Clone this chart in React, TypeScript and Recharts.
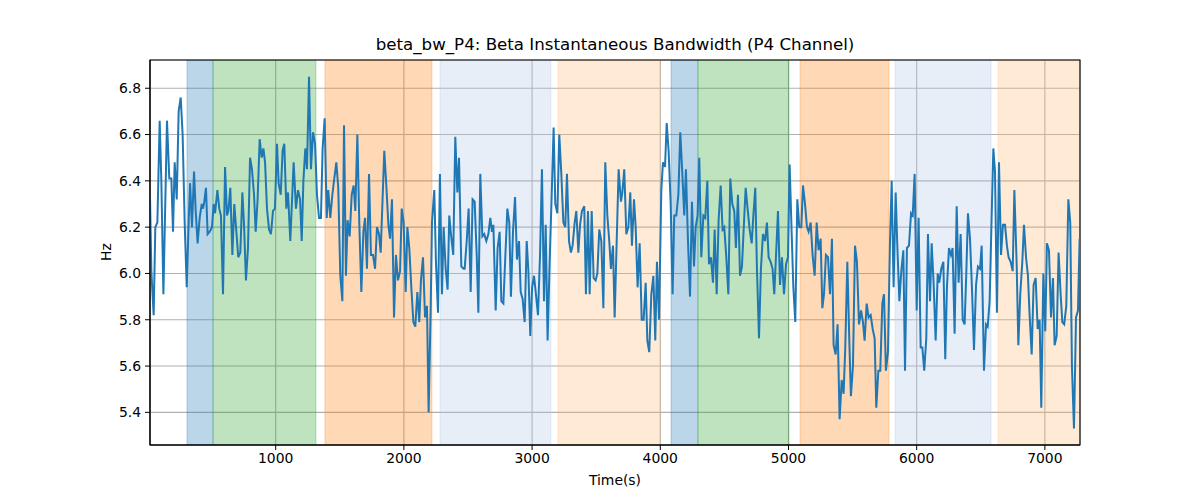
import { LineChart, Line, XAxis, YAxis, CartesianGrid, ReferenceArea } from "recharts";

// time (s) and beta bandwidth (Hz)
const timeS = [
  20, 30, 48, 61, 77, 95, 108, 124, 152, 170,
  186, 199, 212, 228, 243, 259, 274, 290, 306, 321,
  332, 347, 363, 376, 391, 407, 423, 433, 443, 456,
  469, 485, 503, 516, 527, 545, 560, 573, 589, 605,
  620, 631, 646, 662, 677, 696, 708, 724, 740, 753,
  768, 784, 800, 815, 831, 844, 859, 875, 891, 904,
  917, 932, 948, 963, 979, 994, 1010, 1023, 1039, 1054,
  1067, 1083, 1096, 1114, 1140, 1158, 1174, 1190, 1203, 1216,
  1231, 1244,
  1260, 1275, 1291, 1307, 1322, 1338, 1353, 1366, 1382, 1398,
  1410, 1426, 1442, 1457, 1473, 1488, 1504, 1520, 1533, 1548,
  1561, 1577, 1593, 1608, 1621, 1637, 1652, 1668, 1684, 1697,
  1712, 1728, 1743, 1759, 1775, 1790, 1806, 1819, 1847, 1863,
  1879, 1892, 1907, 1923, 1938, 1954, 1970, 1983, 1998, 2014,
  2027, 2042, 2058, 2074, 2089, 2105, 2120, 2133, 2149, 2165,
  2180, 2193, 2209, 2219, 2237, 2250, 2266, 2281, 2297, 2310,
  2326, 2341, 2354, 2367, 2385, 2401, 2417, 2430, 2448, 2466,
  2474, 2490, 2505, 2521, 2536, 2552, 2568, 2581, 2596, 2612,
  2627, 2643, 2659, 2674, 2687, 2698, 2716, 2731, 2747, 2760,
  2776, 2791, 2807, 2822, 2835, 2851, 2867, 2882, 2898, 2911,
  2926, 2942, 2958, 2971, 2986, 3000, 3015, 3030, 3046, 3062,
  3077, 3093, 3106, 3121, 3137, 3153, 3168, 3181, 3197, 3212,
  3228, 3244, 3259, 3272, 3288, 3303, 3316, 3332, 3345, 3361,
  3374, 3389, 3407, 3420, 3436, 3449, 3465, 3480, 3496, 3509,
  3524, 3540, 3556, 3571, 3587, 3602, 3615, 3631, 3644, 3660,
  3675,
  3693, 3704, 3719, 3735, 3751, 3766, 3779, 3795, 3808, 3823,
  3839, 3855, 3870, 3886, 3899, 3914, 3930, 3946, 3961, 3974,
  3990, 4008, 4021, 4037, 4050, 4065, 4081, 4096, 4109, 4125,
  4141, 4156, 4172, 4187, 4200, 4216, 4232, 4247, 4263, 4276,
  4291, 4304, 4320, 4336, 4351, 4367, 4380, 4395, 4411, 4424,
  4440, 4455, 4471, 4486, 4499, 4515, 4531, 4546, 4562, 4577,
  4590, 4606, 4622, 4637, 4653, 4666, 4681, 4697, 4713, 4726,
  4741, 4754, 4770, 4785, 4801, 4817, 4832, 4845, 4861, 4876,
  4889,
  4903, 4918, 4934, 4949, 4965, 4981, 4996, 5009, 5025, 5038,
  5053, 5069, 5084, 5100, 5113, 5129, 5144, 5157, 5173, 5188,
  5204, 5220, 5235, 5251, 5264, 5277, 5292, 5308, 5324, 5339,
  5352, 5368, 5383, 5399, 5415, 5430, 5443, 5459, 5474, 5487,
  5503, 5519, 5534, 5550, 5566, 5581, 5594, 5610, 5625, 5641,
  5657, 5672, 5685, 5701, 5716, 5732, 5745, 5760, 5776, 5792,
  5805, 5820, 5836, 5849, 5865, 5880, 5896, 5909, 5924, 5940,
  5956, 5969, 5984, 6000, 6015, 6031, 6044, 6059, 6075, 6088,
  6104,
  6117, 6132, 6148, 6164, 6176, 6192, 6208, 6223, 6236, 6252,
  6267, 6280, 6296, 6312, 6327, 6343, 6359, 6374, 6387, 6400,
  6416, 6431, 6447, 6463, 6478, 6494, 6507, 6525, 6541, 6554,
  6569, 6582, 6598, 6611, 6626, 6642, 6658, 6673, 6689, 6704,
  6717, 6733, 6749, 6762, 6780, 6793, 6808, 6824, 6837, 6853,
  6868, 6881, 6897, 6912, 6928, 6944, 6959, 6972, 6988, 7003,
  7016, 7032, 7048, 7063, 7076, 7092, 7107, 7123, 7136, 7151,
  7167, 7183, 7198, 7211, 7227, 7243, 7258, 7271,
];

const bwHz = [
  6.32, 6.01, 5.82, 6.20, 6.22, 6.66, 6.40, 5.91, 6.66, 6.41,
  6.41, 6.18, 6.48, 6.32, 6.70, 6.76, 6.60, 6.22, 5.94, 6.22,
  6.39, 6.20, 6.44, 6.27, 6.13, 6.24, 6.30, 6.28, 6.31, 6.37,
  6.17, 6.18, 6.20, 6.30, 6.26, 6.36, 6.28, 6.25, 5.91, 6.46,
  6.25, 6.27, 6.37, 6.08, 6.30, 6.16, 6.07, 6.09, 6.35, 6.21,
  5.97, 6.11, 6.50, 6.45, 6.34, 6.18, 6.32, 6.58, 6.50, 6.54,
  6.48, 6.28, 6.19, 6.17, 6.27, 6.28, 6.56, 6.39, 6.34, 6.53,
  6.56, 6.28, 6.35, 6.14, 6.48, 6.28, 6.36, 6.32, 6.14, 6.40,
  6.54, 6.45,
  6.85, 6.45, 6.61, 6.56, 6.34, 6.24, 6.24, 6.54, 6.67, 6.24,
  6.36, 6.24, 6.34, 6.41, 6.48, 6.37, 5.99, 5.88, 6.64, 5.99,
  6.23, 6.16, 6.34, 6.38, 6.27, 6.60, 6.22, 5.92, 6.18, 6.24,
  6.02, 6.43, 6.08, 6.08, 6.02, 6.20, 6.17, 6.09, 6.53, 6.38,
  6.21, 6.15, 6.32, 5.81, 6.08, 5.97, 6.01, 6.28, 6.22, 5.92,
  6.20, 6.11, 5.94, 5.79, 5.77, 5.92, 5.79, 5.97, 6.07, 5.81,
  5.86, 5.40, 5.85, 6.22, 6.36, 6.05, 5.83, 6.43, 5.91, 6.20,
  6.02, 5.93, 6.25, 6.17, 6.08, 6.59, 6.35, 6.50, 6.03, 6.02,
  6.02, 6.14, 6.28, 5.92, 6.32, 6.31, 6.08, 5.83, 6.43, 6.16,
  6.17, 6.14, 6.17, 6.24, 6.18, 6.21, 5.84, 6.11, 6.18, 5.88,
  5.87, 6.07, 6.28, 6.22, 5.90, 6.18, 6.33, 6.06, 6.14, 5.92,
  5.89, 5.79, 6.14, 6.01, 5.73, 5.94, 5.99, 5.91, 5.82, 6.08,
  6.45, 5.88, 6.21, 5.71, 6.05, 6.34, 6.63, 6.30, 6.26, 6.60,
  6.43, 6.22, 6.20, 6.43, 6.14, 6.09, 6.12, 6.22, 6.27, 6.09,
  6.21, 6.27, 6.29, 5.91, 6.27, 5.91, 6.27, 5.98, 5.97, 6.00,
  6.19, 6.14, 5.85, 6.48, 6.25, 6.14, 6.02, 6.12, 5.81, 6.14,
  6.45,
  6.31, 6.35, 6.45, 6.17, 6.20, 6.35, 6.12, 6.32, 6.20, 5.94,
  6.13, 5.80, 5.80, 5.96, 5.71, 5.66, 5.91, 5.99, 5.71, 6.05,
  5.80, 6.36, 6.48, 6.46, 6.65, 6.53, 6.30, 5.91, 6.25, 6.25,
  6.34, 6.61, 6.43, 6.25, 6.45, 6.14, 5.90, 6.31, 6.03, 6.20,
  6.25, 6.50, 6.07, 6.25, 6.24, 6.40, 6.04, 6.07, 5.96, 6.19,
  5.91, 6.23, 6.38, 6.19, 6.20, 6.07, 5.91, 6.41, 6.30, 6.27,
  6.11, 6.34, 5.99, 6.03, 6.22, 6.37, 6.28, 6.19, 6.13, 6.25,
  6.37, 6.02, 5.72, 6.02, 6.17, 6.14, 6.22, 6.07, 6.05, 6.02,
  5.91,
  6.08, 6.27, 5.95, 6.07, 5.91, 6.04, 6.07, 6.47, 6.17, 5.94,
  5.79, 6.32, 6.20, 6.20, 6.38, 6.30, 6.20, 6.18, 6.22, 6.08,
  5.99, 6.22, 6.10, 6.15, 5.85, 5.91, 6.08, 6.07, 5.91, 6.15,
  5.69, 5.65, 5.78, 5.37, 5.54, 5.48, 5.68, 6.05, 5.72, 5.47,
  5.60, 6.12, 6.05, 5.78, 5.84, 5.79, 5.71, 5.87, 5.81, 5.82,
  5.76, 5.72, 5.42, 5.58, 5.58, 5.87, 5.91, 5.58, 5.66, 6.14,
  6.40, 5.94, 6.35, 6.12, 5.88, 6.01, 6.10, 5.58, 6.11, 6.12,
  6.26, 6.25, 6.43, 5.84, 6.24, 5.68, 5.68, 5.58, 5.72, 6.17,
  5.88,
  6.13, 5.96, 5.71, 6.00, 5.96, 6.02, 6.05, 5.63, 5.94, 6.11,
  6.08, 6.11, 5.74, 6.29, 5.96, 6.17, 5.80, 5.78, 6.00, 6.26,
  6.15, 5.94, 5.67, 5.95, 6.03, 6.02, 6.12, 5.58, 5.78, 5.77,
  5.88, 6.18, 6.54, 6.44, 5.83, 6.48, 6.08, 6.21, 6.21, 6.12,
  6.07, 6.05, 6.01, 6.36, 6.04, 5.69, 5.91, 6.05, 6.21, 6.07,
  5.99, 5.82, 5.65, 5.95, 5.98, 5.76, 5.80, 5.42, 6.00, 5.75,
  6.13, 6.10, 5.81, 5.98, 5.69, 5.73, 6.09, 5.91, 5.79, 5.78,
  5.86, 6.32, 6.22, 5.60, 5.33, 5.81, 5.84, 6.15,
];

// shaded segments (start, end, colour)
const bandStart = [308, 511, 1384, 2282, 3202, 4084, 4294, 5090, 5831, 6635];
const bandEnd = [511, 1314, 2219, 3147, 3998, 4294, 5004, 5784, 6580, 7274];
const bandColor = [
  "#1f77b4", "#2ca02c", "#ff7f0e", "#aec7e8", "#ffbb78",
  "#1f77b4", "#2ca02c", "#ff7f0e", "#aec7e8", "#ffbb78",
];

const xTicks = [1000, 2000, 3000, 4000, 5000, 6000, 7000];
const yTicks = [5.4, 5.6, 5.8, 6.0, 6.2, 6.4, 6.6, 6.8];

const X_DOMAIN = [19.5, 7274];
const Y_DOMAIN = [5.259, 6.922];

const data = timeS.map((t, i) => ({ t, hz: bwHz[i] }));

const tickStyle = { fill: "#000", fontSize: 13.9 };

export default function App() {
  return (
    <div
      style={{
        position: "absolute",
        left: 0,
        top: 0,
        width: 1200,
        height: 500,
        background: "#fff",
        fontFamily: '"DejaVu Sans", sans-serif',
      }}
    >
      <div
        style={{
          position: "absolute",
          left: 150,
          width: 930,
          top: 35,
          textAlign: "center",
          fontSize: 16.67,
          lineHeight: "20px",
        }}
      >
        beta_bw_P4: Beta Instantaneous Bandwidth (P4 Channel)
      </div>
      <LineChart
        width={1200}
        height={500}
        data={data}
        margin={{ top: 60, right: 120, bottom: 25, left: 90 }}
      >
        <CartesianGrid stroke="#b0b0b0" strokeWidth={1.1} />
        {bandStart.map((s, i) => (
          <ReferenceArea
            key={i}
            x1={s}
            x2={bandEnd[i]}
            fill={bandColor[i]}
            fillOpacity={0.3}
            stroke={bandColor[i]}
            strokeOpacity={0.3}
            ifOverflow="hidden"
          />
        ))}
        <XAxis
          dataKey="t"
          type="number"
          domain={X_DOMAIN}
          ticks={xTicks}
          allowDataOverflow
          height={30}
          stroke="#000"
          tickSize={5}
          tickMargin={3}
          tick={tickStyle}
        />
        <YAxis
          type="number"
          domain={Y_DOMAIN}
          ticks={yTicks}
          allowDataOverflow
          width={60}
          stroke="#000"
          tickSize={5}
          tickMargin={4}
          tick={tickStyle}
          tickFormatter={(v: number) => v.toFixed(1)}
        />
        <Line
          type="linear"
          dataKey="hz"
          stroke="#1f77b4"
          strokeWidth={2}
          dot={false}
          isAnimationActive={false}
        />
        {/* axes frame */}
        <ReferenceArea
          x1={X_DOMAIN[0]}
          x2={X_DOMAIN[1]}
          y1={Y_DOMAIN[0]}
          y2={Y_DOMAIN[1]}
          fill="none"
          stroke="#000"
          strokeWidth={1.1}
          ifOverflow="visible"
        />
      </LineChart>
      <div
        style={{
          position: "absolute",
          left: 150,
          width: 930,
          top: 472,
          textAlign: "center",
          fontSize: 13.9,
          lineHeight: "17px",
        }}
      >
        Time(s)
      </div>
      <div
        style={{
          position: "absolute",
          left: 106,
          top: 252,
          fontSize: 13.9,
          lineHeight: "17px",
          transform: "translate(-50%, -50%) rotate(-90deg)",
        }}
      >
        Hz
      </div>
    </div>
  );
}
